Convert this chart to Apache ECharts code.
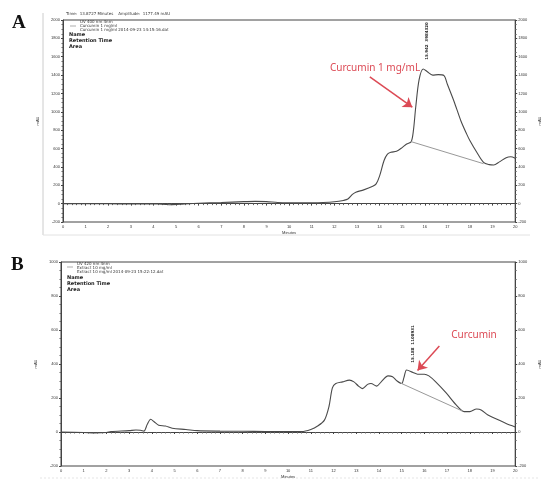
<!DOCTYPE html>
<html>
<head>
<meta charset="utf-8">
<script src="https://cdn.jsdelivr.net/npm/echarts@6/dist/echarts.min.js"></script>
<style>
  html, body { margin: 0; padding: 0; background: #fff; }
  #main { width: 550px; height: 494px; }
</style>
</head>
<body>
<div id="main"></div>
<script>
// panel A : Curcumin 1 mg/mL
var timeA = [0, 1, 2, 3, 4, 4.7, 5.2, 6, 7, 8, 8.5, 9, 9.5, 10, 11, 11.5, 12, 12.4, 12.6, 12.8, 12.95,
  13.3, 13.7, 13.85, 14.0, 14.2, 14.35, 14.5, 14.75, 15.0, 15.2, 15.4, 15.5, 15.6, 15.75, 15.93,
  16.1, 16.35, 16.6, 16.85, 17.0, 17.3, 17.6, 17.85, 18.0, 18.3, 18.6, 18.85, 19.05, 19.3, 19.6, 19.8, 20.0];
var valueA = [0, 0, -2, -3, -2, -12, -5, 5, 12, 22, 25, 22, 12, 10, 10, 12, 20, 35, 50, 100, 125,
  150, 190, 215, 300, 470, 540, 560, 570, 610, 650, 675, 800, 1050, 1350, 1467,
  1440, 1400, 1405, 1395, 1300, 1110, 900, 760, 685, 560, 450, 425, 420, 455, 500, 510, 495];
var baseTimeA = [15.4, 18.6];
var baseValueA = [675, 435];

// panel B : extract
var timeB = [0, 1, 1.5, 2, 2.2, 3, 3.3, 3.5, 3.65, 3.8, 3.95, 4.1, 4.3, 4.6, 4.9, 5.5, 6, 7, 8, 9, 10,
  10.6, 11.0, 11.3, 11.6, 11.8, 11.95, 12.1, 12.4, 12.7, 12.9, 13.1, 13.27, 13.5, 13.65, 13.9, 14.1,
  14.4, 14.6, 14.8, 15.0, 15.1, 15.22, 15.5, 15.7, 16.0, 16.2, 16.5, 16.96, 17.4, 17.75, 18.0, 18.3,
  18.5, 18.8, 19.2, 19.6, 20];
var valueB = [0, -3, -5, -3, 2, 8, 12, 10, 5, 45, 75, 60, 40, 35, 22, 15, 8, 5, 4, 3, 3,
  3, 15, 35, 70, 150, 260, 285, 295, 305, 295, 270, 255, 280, 285, 270, 295,
  330, 325, 300, 285, 320, 365, 350, 340, 340, 330, 295, 230, 160, 120, 120, 135,
  130, 100, 75, 50, 30];
var baseTimeB = [14.95, 17.7];
var baseValueB = [288, 122];

var yTicksA = { min: -200, max: 2000, interval: 200 };
var yTicksB = { min: -200, max: 1000, interval: 200 };

function pairs(t, v) {
  return t.map(function (x, i) { return [x, v[i]]; });
}

var red = '#dc4a55';

function xAx(gi) {
  return {
    type: 'value', gridIndex: gi, min: 0, max: 20, interval: 1,
    name: 'Minutes', nameLocation: 'middle', nameGap: 9,
    nameTextStyle: { fontSize: 4, color: '#333' },
    axisLine: { lineStyle: { color: '#444', width: 1 } },
    axisTick: { length: 2, lineStyle: { color: '#444' } },
    minorTick: { show: true, splitNumber: 5, length: 1.5, lineStyle: { color: '#666' } },
    axisLabel: { fontSize: 4, color: '#333', margin: 3 },
    splitLine: { show: false }
  };
}
function yAx(gi, t, pos) {
  return {
    type: 'value', gridIndex: gi, position: pos, min: t.min, max: t.max, interval: t.interval,
    name: 'mAU', nameLocation: 'middle', nameGap: pos == 'left' ? 17 : 12,
    nameTextStyle: { fontSize: 4, color: '#333' },
    axisLine: { show: true, lineStyle: { color: '#444', width: 1 } },
    axisTick: { show: true, length: 2, lineStyle: { color: '#444' } },
    minorTick: { show: true, splitNumber: 4, length: 1.5, lineStyle: { color: '#666' } },
    axisLabel: { fontSize: 4, color: '#333', margin: 3, formatter: function (v) { return String(v); } },
    splitLine: { show: false }
  };
}

var myChart = echarts.init(document.getElementById('main'));
var option = {
  animation: false,
  backgroundColor: '#fff',
  grid: [
    { left: 63, right: 30, top: 20, height: 202, show: true, borderColor: '#444', borderWidth: 1 },
    { left: 61, right: 28, top: 262, height: 204, show: true, borderColor: '#444', borderWidth: 1 }
  ],
  xAxis: [xAx(0), xAx(1)],
  yAxis: [yAx(0, yTicksA, 'left'), yAx(0, yTicksA, 'right'), yAx(1, yTicksB, 'left'), yAx(1, yTicksB, 'right')],
  series: [
    {
      type: 'line', xAxisIndex: 0, yAxisIndex: 0, data: pairs(timeA, valueA),
      smooth: 0.3, showSymbol: false, lineStyle: { color: '#4a4a4a', width: 1.1 },
      markLine: {
        silent: true, symbol: ['none', 'arrow'], symbolSize: 9,
        lineStyle: { color: red, width: 1.5, type: 'solid' }, label: { show: false },
        data: [[{ coord: [13.57, 1380] }, { coord: [15.45, 1050] }]]
      }
    },
    {
      type: 'line', xAxisIndex: 0, yAxisIndex: 0, data: pairs(baseTimeA, baseValueA),
      showSymbol: false, lineStyle: { color: '#999', width: 1 }
    },
    {
      type: 'line', xAxisIndex: 1, yAxisIndex: 2, data: pairs(timeB, valueB),
      smooth: 0.3, showSymbol: false, lineStyle: { color: '#4a4a4a', width: 1.1 },
      markLine: {
        silent: true, symbol: ['none', 'arrow'], symbolSize: 9,
        lineStyle: { color: red, width: 1.5, type: 'solid' }, label: { show: false },
        data: [[{ coord: [16.66, 506] }, { coord: [15.7, 362] }]]
      }
    },
    {
      type: 'line', xAxisIndex: 1, yAxisIndex: 2, data: pairs(baseTimeB, baseValueB),
      showSymbol: false, lineStyle: { color: '#999', width: 1 }
    }
  ],
  graphic: [
    // panel letters
    { type: 'text', left: 12, top: 14, style: { text: 'A', font: 'bold 19px "Liberation Serif"', fill: '#111' } },
    { type: 'text', left: 11, top: 256, style: { text: 'B', font: 'bold 19px "Liberation Serif"', fill: '#111' } },
    // scanned frame
    { type: 'line', shape: { x1: 43, y1: 13, x2: 43, y2: 235 }, style: { stroke: '#ccc', lineWidth: 1 } },
    { type: 'line', shape: { x1: 43, y1: 235, x2: 530, y2: 235 }, style: { stroke: '#e2e2e2', lineWidth: 1 } },
    { type: 'line', shape: { x1: 40, y1: 478, x2: 540, y2: 478 }, style: { stroke: '#e6e6e6', lineWidth: 1, lineDash: [2, 2] } },
    // header A
    { type: 'text', x: 66, y: 12, style: { text: 'Time:  13.8727 Minutes    Amplitude:  1177.49 mAU', font: '4px "DejaVu Sans"', fill: '#333' } },
    { type: 'line', shape: { x1: 70, y1: 26, x2: 76, y2: 26 }, style: { stroke: '#777', lineWidth: 0.6 } },
    { type: 'text', x: 80, y: 20, style: { text: 'UV 400 nm 4nm', font: '4px "DejaVu Sans"', fill: '#333' } },
    { type: 'text', x: 80, y: 24, style: { text: 'Curcumin 1 mg/ml', font: '4px "DejaVu Sans"', fill: '#333' } },
    { type: 'text', x: 80, y: 28, style: { text: 'Curcumin 1 mg/ml 2014-09-23 14:15:16.dat', font: '4px "DejaVu Sans"', fill: '#333' } },
    { type: 'text', x: 69, y: 32, style: { text: 'Name', font: 'bold 5px "DejaVu Sans"', fill: '#222' } },
    { type: 'text', x: 69, y: 38, style: { text: 'Retention Time', font: 'bold 5px "DejaVu Sans"', fill: '#222' } },
    { type: 'text', x: 69, y: 44, style: { text: 'Area', font: 'bold 5px "DejaVu Sans"', fill: '#222' } },
    // header B
    { type: 'line', shape: { x1: 67, y1: 267, x2: 73, y2: 267 }, style: { stroke: '#777', lineWidth: 0.6 } },
    { type: 'text', x: 77, y: 262, style: { text: 'UV 420 nm 4nm', font: '4px "DejaVu Sans"', fill: '#333' } },
    { type: 'text', x: 77, y: 266, style: { text: 'Extract 10 mg/ml', font: '4px "DejaVu Sans"', fill: '#333' } },
    { type: 'text', x: 77, y: 270, style: { text: 'Extract 10 mg/ml 2014-09-23 15:22:12.dat', font: '4px "DejaVu Sans"', fill: '#333' } },
    { type: 'text', x: 67, y: 275, style: { text: 'Name', font: 'bold 5px "DejaVu Sans"', fill: '#222' } },
    { type: 'text', x: 67, y: 281, style: { text: 'Retention Time', font: 'bold 5px "DejaVu Sans"', fill: '#222' } },
    { type: 'text', x: 67, y: 287, style: { text: 'Area', font: 'bold 5px "DejaVu Sans"', fill: '#222' } },
    // peak labels (vertical)
    { type: 'text', x: 427, y: 41, rotation: Math.PI / 2, style: { text: '15.942  3984320', font: 'bold 4px "DejaVu Sans"', fill: '#222', align: 'center', verticalAlign: 'middle' } },
    { type: 'text', x: 413, y: 344, rotation: Math.PI / 2, style: { text: '15.188  1108931', font: 'bold 4px "DejaVu Sans"', fill: '#222', align: 'center', verticalAlign: 'middle' } },
    // red annotations
    { type: 'text', x: 375, y: 68, style: { text: 'Curcumin 1 mg/mL', font: '10px "Noto Sans"', fill: red, align: 'center', verticalAlign: 'middle' } },
    { type: 'text', x: 474, y: 335, style: { text: 'Curcumin', font: '10px "Noto Sans"', fill: red, align: 'center', verticalAlign: 'middle' } }
  ]
};
myChart.setOption(option);
</script>
</body>
</html>
